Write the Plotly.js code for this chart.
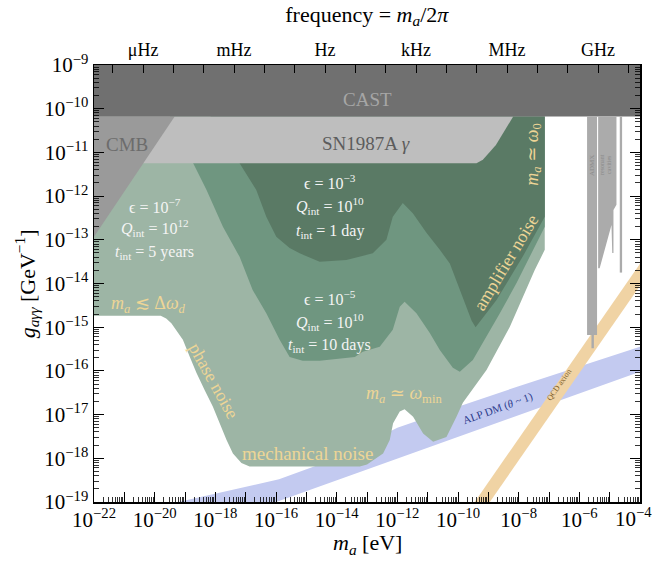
<!DOCTYPE html>
<html><head><meta charset="utf-8">
<script src="https://cdn.plot.ly/plotly-3.0.1.min.js"></script>
<style>html,body{margin:0;padding:0;background:#fff}</style>
</head><body><div id="chart" style="width:655px;height:565px"></div>
<script>
// ---------- data (log10 values: mass in eV, coupling in GeV^-1) ----------
const massRangeLog = [-22, -4];
const couplingRangeLog = [-19, -9];
const hPlanck_eVs = 4.135667696e-15;   // m_a = h f
const freqUnitExp = [-6, -3, 0, 3, 6, 9];
const freqUnitLabels = ["μHz", "mHz", "Hz", "kHz", "MHz", "GHz"];

// CAST helioscope bound
const castM = [-22, -4, -4, -22];
const castG = [-9, -9, -10.18, -10.18];
// SN1987A gamma bound
const snM = [-22, -9.39, -9.18, -8.75, -8.18, -22];
const snG = [-11.25, -11.25, -11.17, -10.83, -10.18, -10.18];
// CMB bound
const cmbM = [-22, -19.34, -22];
const cmbG = [-12.93, -10.18, -10.18];

// projected sensitivity, eps = 1e-7, Q = 1e12, t = 5 years
const lightM = [-22, -7.14, -7.14, -7.47, -8.29, -9.06, -9.84, -10.05, -10.38, -10.82, -11.15, -11.48, -11.76, -11.92, -12.14, -12.25, -12.47, -12.80, -13.0, -13.24, -16.87, -17.14, -17.42, -17.63, -17.86, -18.08, -18.35, -18.62, -18.84, -19.07, -19.45, -19.62, -19.80, -22];
const lightG = [-10.18, -10.18, -13.23, -13.69, -14.99, -15.98, -16.73, -17.05, -17.51, -17.62, -17.43, -17.05, -16.88, -16.93, -17.20, -17.58, -17.89, -18.04, -18.14, -18.19, -18.19, -18.11, -17.89, -17.58, -17.20, -16.82, -16.44, -16.05, -15.68, -15.29, -14.91, -14.80, -14.74, -14.74];
// eps = 1e-5, Q = 1e10, t = 10 days
const midM = [-19.5, -7.14, -7.14, -7.87, -8.07, -8.62, -9.51, -9.94, -10.17, -10.60, -10.93, -11.37, -11.76, -11.92, -12.15, -12.58, -13.14, -13.40, -14.56, -15.12, -15.55, -15.88, -16.32, -16.77, -17.20, -17.75, -18.29, -18.73];
const midG = [-10.18, -10.18, -12.70, -13.69, -13.99, -14.68, -15.75, -16.02, -15.93, -15.52, -15.13, -14.68, -14.42, -14.53, -15.06, -15.45, -15.56, -15.68, -15.77, -15.77, -15.68, -15.29, -14.68, -14.15, -13.39, -12.70, -11.86, -11.25];
// eps = 1e-3, Q = 1e10, t = 1 day
const darkM = [-18.16, -7.14, -7.14, -7.87, -8.73, -9.30, -9.42, -9.55, -9.94, -10.27, -10.60, -11.04, -11.49, -11.82, -12.15, -12.36, -12.81, -13.68, -14.56, -15.22, -15.55, -15.99, -16.32, -16.65, -17.20];
const darkG = [-10.18, -10.18, -12.47, -13.39, -14.38, -14.88, -15.00, -14.85, -14.15, -13.54, -13.23, -12.84, -12.39, -12.16, -12.47, -13.00, -13.31, -13.46, -13.50, -13.31, -13.19, -12.93, -12.47, -11.86, -11.25];

// ALP dark matter band (theta ~ 1)
const alpUpperM = [-19.6, -17.5, -15.9, -14.0, -12.0, -10.0, -8.0, -6.0, -4.0];
const alpUpperG = [-19.06, -18.74, -18.48, -18.0, -17.3, -16.82, -16.35, -15.9, -15.45];
const alpLowerM = [-4.0, -17.0];
const alpLowerG = [-16.02, -19.25];
// QCD axion band
const qcdEdgeM = [-10.5, -4.0];
const qcdUpperG = [-20.05, -13.55];
const qcdLowerG = [-20.55, -14.05];
// haloscopes
const admxM = [-5.745, -5.416, -5.416, -5.52, -5.52, -5.60, -5.60, -5.745];
const admxG = [-10.18, -10.18, -15.18, -15.18, -15.48, -15.48, -15.18, -15.18];
const cavM = [-5.38, -4.776, -4.776, -4.875, -4.875, -4.915, -4.94, -5.33, -5.38];
const cavG = [-10.18, -10.18, -12.20, -12.32, -13.30, -13.30, -12.66, -13.65, -13.65];
const cav2M = [-4.667, -4.59, -4.59, -4.667];
const cav2G = [-10.18, -10.18, -13.75, -13.75];

// ---------- build ----------
const p10 = a => a.map(v => Math.pow(10, v));
function region(mArr, gArr, color) {
  return {x: p10(mArr), y: p10(gArr), mode: 'lines', fill: 'toself', fillcolor: color,
          line: {width: 0, color: color}, hoverinfo: 'skip', showlegend: false};
}
const alpM = alpUpperM.concat(alpLowerM), alpG = alpUpperG.concat(alpLowerG);
const qcdM = qcdEdgeM.concat(qcdEdgeM.slice().reverse());
const qcdG = qcdUpperG.concat(qcdLowerG.slice().reverse());

const traces = [
  region(alpM, alpG, '#c3caf0'),
  region(lightM, lightG, '#9db5a5'),
  region(midM, midG, '#6f9680'),
  region(darkM, darkG, '#5a7a65'),
  region(snM, snG, '#bebebe'),
  region(cmbM, cmbG, '#9a9a9a'),
  region(castM, castG, '#707070'),
  region(qcdM, qcdG, '#f0d3a4'),
  region(admxM, admxG, '#ababab'),
  region(cavM, cavG, '#ababab'),
  region(cav2M, cav2G, '#ababab')
];
const fOff = -Math.log10(hPlanck_eVs);
const fRange = [massRangeLog[0] + fOff, massRangeLog[1] + fOff];
traces.push({x: [Math.pow(10, fRange[0]), Math.pow(10, fRange[1])], y: [1e-19, 1e-19], xaxis: 'x2', yaxis: 'y',
  mode: 'markers', marker: {opacity: 0}, hoverinfo: 'skip', showlegend: false});

const FONT = 'Liberation Serif, DejaVu Serif, serif';
function decades(a, b) { const r = []; for (let e = a; e <= b; e++) r.push(e); return r; }
function minorVals(a, b) { const r = []; for (let e = a; e < b; e++) for (let k = 2; k <= 9; k++) r.push(k * Math.pow(10, e)); return r; }
const xDec = decades(massRangeLog[0], massRangeLog[1]);
const yDec = decades(couplingRangeLog[0], couplingRangeLog[1]);
const sup = e => '10<sup>' + (e < 0 ? '−' + (-e) : e) + '</sup>';
const fDec = decades(Math.ceil(fRange[0]), Math.floor(fRange[1]));
const fText = fDec.map(e => { const i = freqUnitExp.indexOf(e); return i >= 0 ? freqUnitLabels[i] : ' '; });
// last mass label is drawn right-aligned at the figure edge (as in the reference)
const xLast = massRangeLog[1];

const Y = '#eed596';
function ann(text, x, y, size, color, angle) {
  return {text: text, x: x, y: y, xref: 'x', yref: 'y', showarrow: false, textangle: angle || 0,
          font: {family: FONT, size: size, color: color}, xanchor: 'center', yanchor: 'middle'};
}
const W = '#f4f4f4';
const annotations = [
  ann('CAST', -12.99, -9.80, 19, '#a6a6a6'),
  ann('SN1987A <i>γ</i>', -13.04, -10.785, 19, '#5c5c5c'),
  ann('CMB', -20.905, -10.81, 19, '#6c6c6c'),
  ann('ϵ = 10<sup>−7</sup>', -19.99, -12.227, 16, W),
  ann('<i>Q</i><sub>int</sub> = 10<sup>12</sup>', -19.99, -12.73, 16, W),
  ann('<i>t</i><sub>int</sub> = 5 years', -19.99, -13.30, 16, W),
  ann('ϵ = 10<sup>−3</sup>', -14.23, -11.67, 16, W),
  ann('<i>Q</i><sub>int</sub> = 10<sup>10</sup>', -14.23, -12.23, 16, W),
  ann('<i>t</i><sub>int</sub> = 1 day', -14.23, -12.80, 16, W),
  ann('ϵ = 10<sup>−5</sup>', -14.23, -14.33, 16, W),
  ann('<i>Q</i><sub>int</sub> = 10<sup>10</sup>', -14.23, -14.87, 16, W),
  ann('<i>t</i><sub>int</sub> = 10 days', -14.23, -15.42, 16, W),
  ann('<i>m</i><sub><i>a</i></sub> ≲ Δ<i>ω</i><sub><i>d</i></sub>', -20.2, -14.49, 18, Y),
  ann('phase noise', -18.05, -16.23, 18, Y, 61),
  ann('mechanical noise', -14.97, -17.88, 19, Y),
  ann('<i>m</i><sub><i>a</i></sub> ≃ <i>ω</i><sub>min</sub>', -11.79, -16.55, 18, Y),
  ann('amplifier noise', -8.43, -13.53, 18, Y, -59),
  ann('<i>m</i><sub><i>a</i></sub> ≃ <i>ω</i><sub>0</sub>', -7.54, -11.06, 18, Y, -90),
  ann('ALP DM (<i>θ</i> ~ 1)', -8.69, -16.85, 11, '#2b3a8c', -20),
  ann('QCD axion', -6.65, -16.32, 8, '#7d5d28', -55),
  ann('ADMX', -5.58, -11.31, 7, '#8a8a8a', -90),
  ann('resonant<br>cavities', -5.13, -11.27, 6, '#8a8a8a', -90),
  {text: sup(xLast), xref: 'paper', yref: 'paper', x: 1.0262, y: -0.036, showarrow: false,
   xanchor: 'right', yanchor: 'middle', font: {family: FONT, size: 21, color: '#000'}},
  // axis titles
  {text: '<i>m</i><sub><i>a</i></sub> [eV]', xref: 'paper', yref: 'paper', x: 0.5, y: -0.096, showarrow: false,
   xanchor: 'center', yanchor: 'middle', font: {family: FONT, size: 22, color: '#000'}},
  {text: '<i>g</i><sub><i>aγγ</i></sub> [GeV<sup>−1</sup>]', xref: 'paper', yref: 'paper', x: -0.123, y: 0.5, showarrow: false,
   xanchor: 'center', yanchor: 'middle', textangle: -90, font: {family: FONT, size: 22, color: '#000'}}
];

const axBase = {type: 'log', showgrid: false, zeroline: false, ticks: 'inside', ticklen: 10, tickwidth: 1,
  tickcolor: '#000', showline: true, linecolor: '#000', linewidth: 1.5,
  tickfont: {family: FONT, size: 21, color: '#000'}};

const layout = {
  width: 655, height: 565, paper_bgcolor: '#fff', plot_bgcolor: '#fff',
  margin: {l: 94, r: 15, t: 65, b: 63},
  font: {family: FONT, color: '#000'},
  title: {text: 'frequency = <i>m</i><sub><i>a</i></sub>/2<i>π</i>', x: 0.56, xanchor: 'center', y: 1 - 14 / 565, yanchor: 'middle',
          font: {family: FONT, size: 22, color: '#000'}},
  xaxis: Object.assign({}, axBase, {range: massRangeLog, tickmode: 'array', tickvals: p10(xDec),
    ticktext: xDec.map(e => (e % 2 === 0 && e !== xLast ? sup(e) : ' ')), mirror: false, ticklabelstandoff: -2,
    minor: {tickmode: 'array', tickvals: minorVals(massRangeLog[0], massRangeLog[1]), ticks: 'inside', ticklen: 5, tickcolor: '#000', tickwidth: 0.8}}),
  yaxis: Object.assign({}, axBase, {range: couplingRangeLog, tickmode: 'array', tickvals: p10(yDec),
    ticktext: yDec.map(sup), mirror: 'ticks',
    minor: {tickmode: 'array', tickvals: minorVals(couplingRangeLog[0], couplingRangeLog[1]), ticks: 'inside', ticklen: 5, tickcolor: '#000', tickwidth: 0.8}}),
  xaxis2: Object.assign({}, axBase, {overlaying: 'x', side: 'top', anchor: 'y', range: fRange, tickmode: 'array',
    tickvals: p10(fDec), ticktext: fText, ticklen: 8, tickfont: {family: FONT, size: 18, color: '#000'}}),
  annotations: annotations
};
Plotly.newPlot('chart', traces, layout, {staticPlot: true, displayModeBar: false});
</script></body></html>
